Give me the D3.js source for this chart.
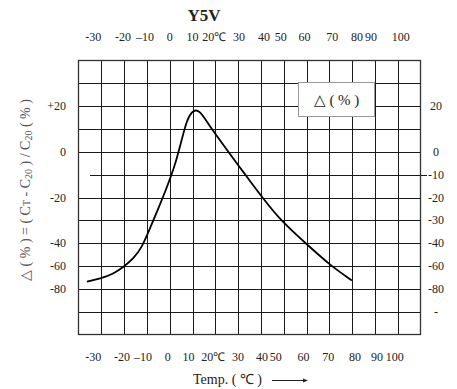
<!DOCTYPE html>
<html>
<head>
<meta charset="utf-8">
<script src="https://cdn.jsdelivr.net/npm/d3@7"></script>
<style>
  body { margin: 0; background: #fff; }
  text { font-family: "Liberation Serif", "Times New Roman", serif; fill: #222; }
</style>
</head>
<body>
<svg id="chart" width="457" height="389"></svg>
<script>
// curve: temperature (°C) vs capacitance change (%)
var temps  = [-36.3, -30.5, -24.6, -20.3, -15.9, -12.2, -9.3, -5.6, -2, 2.4, 5.4, 7.5, 9.7, 11.9, 14.1, 17.8, 23.6, 30.6, 33.9, 40.4, 49.2, 60.2, 70.4, 79.9];
var deltas = [-73.6, -71.2, -66.8, -60.9, -53.7, -43.5, -35.1, -26.3, -17.5, -5.9, 5.8, 13.7, 17.7, 18.5, 16.7, 10.9, 2.9, -6.6, -11, -19.7, -30.7, -41, -59.5, -72.7];

// temperature tick labels (top and bottom rows)
var tempTicks  = [-30, -20, -10, 0, 10, 20, 30, 40, 50, 60, 70, 80, 90, 100];
var tempLabels = ["-30", "-20", "\u201310", "0", "10", "20\u2103", "30", "40", "50", "60", "70", "80", "90", "100"];

// y tick labels, left and right sides
var leftTicks   = [20, 0, -20, -40, -60, -80];
var leftLabels  = ["+20", "0", "-20", "-40", "-60", "-80"];
var rightTicks  = [20, 0, -10, -20, -30, -40, -60, -80, -100];
var rightLabels = ["20", "0", "-10", "-20", "-30", "-40", "-60", "-80", "-"];

// grid row boundaries (value at each horizontal line, top to bottom)
var rowValues = [40, 30, 20, 10, 0, -10, -20, -30, -40, -60, -80, -100, -120];

var L = 78.5, R = 420.5, T = 60.5, B = 334.5;

var svg = d3.select("#chart");

var x = d3.scaleLinear().domain([-40, 110]).range([L, R]);
var y = d3.scaleLinear().domain([40, -40, -120]).range([T, T + (B - T) * 8 / 12, B]);

// label nudges, hand placed in the original
var topNudge = [-8, -1, -2, 0, 0, -1, 1, 3, -3, -2, 3, 5, -4, 3];
var botNudge = [-8, -2, -4, -2, -4, -2, 0, 1, -8, -3, -1, 3, 2, -3];

var grid = svg.append("g").attr("stroke", "#1a1a1a").attr("stroke-width", 1);

// vertical lines
grid.selectAll("line.v").data(d3.range(-30, 110, 10)).enter()
  .append("line").attr("class", "v")
  .attr("x1", d => Math.round(x(d)) + 0.5).attr("x2", d => Math.round(x(d)) + 0.5)
  .attr("y1", T).attr("y2", B);

// horizontal lines (the -10 line is a short one that runs out to its label)
grid.selectAll("line.h").data(rowValues.slice(1, -1)).enter()
  .append("line").attr("class", "h")
  .attr("x1", d => d === -10 ? 90 : L)
  .attr("x2", d => d === -10 ? 427 : R)
  .attr("y1", d => Math.round(y(d)) + 0.5).attr("y2", d => Math.round(y(d)) + 0.5);

// frame
svg.append("rect")
  .attr("x", L).attr("y", T).attr("width", R - L).attr("height", B - T)
  .attr("fill", "none").attr("stroke", "#333").attr("stroke-width", 1.3);

// curve
var line = d3.line()
  .x((d, i) => x(temps[i]))
  .y((d, i) => y(deltas[i]))
  .curve(d3.curveBasis);

svg.append("path")
  .datum(temps)
  .attr("d", line)
  .attr("fill", "none")
  .attr("stroke", "#000")
  .attr("stroke-width", 1.8);

// legend box
var lg = svg.append("g");
lg.append("rect")
  .attr("x", 298.5).attr("y", 82.5).attr("width", 76).attr("height", 34)
  .attr("fill", "#fff").attr("stroke", "#999").attr("stroke-width", 1);
lg.append("text").attr("x", 336.5).attr("y", 105)
  .attr("text-anchor", "middle").style("font-size", "15px")
  .text("\u25B3 ( % )");

// title
svg.append("text").attr("x", 204).attr("y", 21)
  .attr("text-anchor", "middle").style("font-size", "17px").style("font-weight", "bold")
  .text("Y5V");

// top and bottom temperature labels
svg.selectAll("text.top").data(tempTicks).enter()
  .append("text").attr("class", "top")
  .attr("x", (d, i) => x(d) + topNudge[i]).attr("y", 41)
  .attr("text-anchor", "middle").style("font-size", "12px")
  .text((d, i) => tempLabels[i]);

svg.selectAll("text.bot").data(tempTicks).enter()
  .append("text").attr("class", "bot")
  .attr("x", (d, i) => x(d) + botNudge[i]).attr("y", 361)
  .attr("text-anchor", "middle").style("font-size", "12px")
  .text((d, i) => tempLabels[i]);

// left and right value labels
svg.selectAll("text.left").data(leftTicks).enter()
  .append("text").attr("class", "left")
  .attr("x", 66).attr("y", d => y(d) + 4)
  .attr("text-anchor", "end").style("font-size", "12px")
  .text((d, i) => leftLabels[i]);

svg.selectAll("text.right").data(rightTicks).enter()
  .append("text").attr("class", "right")
  .attr("x", 436).attr("y", d => y(d) + 4)
  .attr("text-anchor", "middle").style("font-size", "12px")
  .text((d, i) => rightLabels[i]);

// y axis title
var yt = svg.append("text")
  .attr("transform", "translate(30,190) rotate(-90)")
  .attr("text-anchor", "middle")
  .style("font-size", "14px").style("fill", "#555");
yt.append("tspan").text("\u25B3 ( % ) = ( C");
yt.append("tspan").style("font-size", "10px").text("T");
yt.append("tspan").text(" - C");
yt.append("tspan").style("font-size", "10px").attr("dy", 2).text("20");
yt.append("tspan").attr("dy", -2).text(" ) / C");
yt.append("tspan").style("font-size", "10px").attr("dy", 2).text("20");
yt.append("tspan").attr("dy", -2).text(" ( % )");

// x axis title with arrow
svg.append("text").attr("x", 193).attr("y", 384)
  .style("font-size", "14px")
  .text("Temp. (  \u2103  )");
svg.append("line")
  .attr("x1", 272).attr("x2", 304).attr("y1", 380.5).attr("y2", 380.5)
  .attr("stroke", "#222").attr("stroke-width", 1);
svg.append("path")
  .attr("d", "M303,378.5 L308,380.5 L303,382.5 Z")
  .attr("fill", "#222");
</script>
</body>
</html>
